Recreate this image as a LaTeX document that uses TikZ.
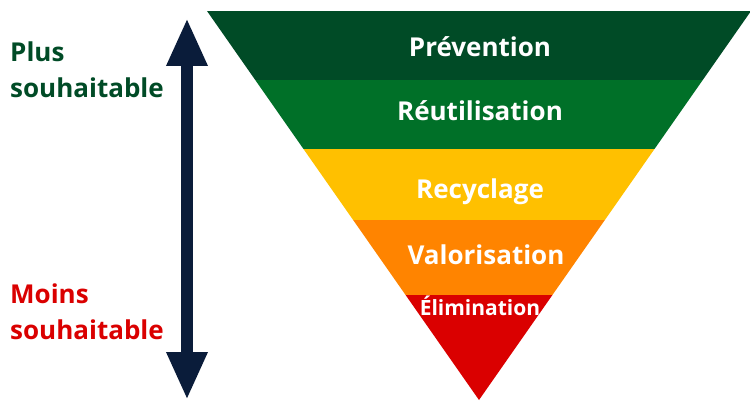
\documentclass[tikz,border=0pt]{standalone}
\usepackage{fontspec}
\setmainfont{Open Sans}
\usetikzlibrary{arrows.meta}
\definecolor{vertfonce}{RGB}{0,75,38}
\definecolor{vert}{RGB}{0,112,40}
\definecolor{jaune}{RGB}{255,192,0}
\definecolor{orange}{RGB}{255,132,0}
\definecolor{rouge}{RGB}{218,0,0}
\definecolor{marine}{RGB}{10,28,58}
\newcommand{\gros}{\bfseries\fontsize{26}{36}\selectfont}

\begin{document}
\begin{tikzpicture}[x=1pt,y=-1pt,
  niveau/.style={text=white,font=\gros,inner sep=0pt},
  cote/.style={font=\gros,align=left,anchor=north west,inner sep=0pt}]
  \path[use as bounding box] (0,0) rectangle (750,401);
  % le triangle inverse
  \coordinate (hg) at (207,11);
  \coordinate (hd) at (751,11);
  \coordinate (pointe) at (479,400);
  \begin{scope}
   \clip (hg) -- (hd) -- (pointe) -- cycle;
   \fill[vertfonce] (200, 11) rectangle (751, 80);
   \fill[vert]      (200, 80) rectangle (751,149);
   \fill[jaune]     (200,149) rectangle (751,220);
   \fill[orange]    (200,220) rectangle (751,295);
   \fill[rouge]     (200,295) rectangle (751,401);
  \end{scope}
  \node[niveau] (prev)  at (480, 47) {Prévention};
  \node[niveau] (reut)  at (480,111) {Réutilisation};
  \node[niveau] (recy)  at (480,192) {Recyclage};
  \node[niveau] (valo)  at (486,255) {Valorisation};
  \node[niveau,font=\bfseries\fontsize{21}{21}\selectfont] (elim) at (480,306) {Élimination};
  % la fleche
  \coordinate (haut) at (187,18);
  \coordinate (bas)  at (187,400);
  \draw[marine,line width=12pt,{Triangle[width=38pt,length=48pt]}-{Triangle[width=38pt,length=48pt]}] (haut) -- (bas);
  \node[cote,text=vertfonce] (plus)  at (10, 42) {Plus\\souhaitable};
  \node[cote,text=rouge]     (moins) at (10,284) {Moins\\souhaitable};
\end{tikzpicture}
\end{document}
